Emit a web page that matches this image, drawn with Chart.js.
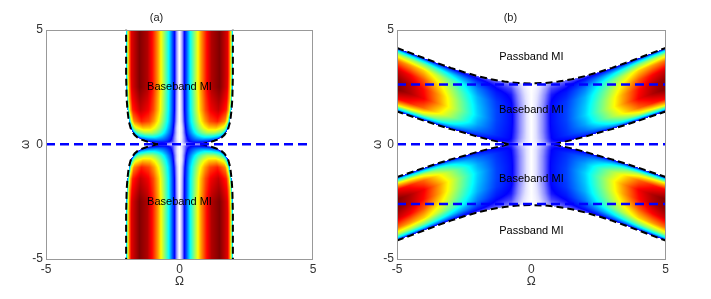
<!DOCTYPE html>
<html>
<head>
<meta charset="utf-8">
<script src="https://cdn.jsdelivr.net/npm/chart.js@4.4.1/dist/chart.umd.min.js"></script>
<style>
  body { margin: 0; background: #fff; }
  #wrap { position: relative; width: 711px; height: 299px; }
  canvas { position: absolute; top: 0; }
</style>
</head>
<body>
<div id="wrap">
  <canvas id="panelA" width="355" height="299" style="left:0"></canvas>
  <canvas id="panelB" width="356" height="299" style="left:355px"></canvas>
</div>
<script>
// axis ticks (both axes, both panels)
var tickValues = [-5, 0, 5];

// ---- panel (a) ----
// edge of the MI region: small omega -> |Omega|
var aEdgeW = [0, 0.02, 0.05, 0.1, 0.15, 0.2, 0.3, 0.4, 0.55, 0.7, 1.0, 1.5, 2, 3, 5];
var aEdgeO = [0.78, 0.9, 1.02, 1.17, 1.3, 1.42, 1.58, 1.68, 1.77, 1.83, 1.9, 1.95, 1.98, 2.0, 2.0];
// gain: rows = |omega|, cols = |Omega| / edge
var aGainW = [0, 0.1, 0.3, 0.5, 0.7, 1.0, 1.5, 2.5, 5];
var aGainT = [0, 0.05, 0.125, 0.2, 0.3, 0.4, 0.5, 0.6, 0.75, 0.9, 0.95, 1];
var aGain = [
    [0, 0.01, 0.02, 0.03, 0.03, 0.04, 0.05, 0.06, 0.07, 0.08, 0.08, 0.06],
    [0, 0.02, 0.06, 0.10, 0.13, 0.15, 0.16, 0.16, 0.15, 0.13, 0.11, 0.08],
    [0, 0.02, 0.09, 0.16, 0.23, 0.29, 0.33, 0.36, 0.35, 0.30, 0.24, 0.10],
    [0, 0.03, 0.12, 0.22, 0.33, 0.43, 0.50, 0.55, 0.55, 0.47, 0.37, 0.12],
    [0, 0.03, 0.14, 0.27, 0.40, 0.52, 0.61, 0.67, 0.68, 0.60, 0.48, 0.15],
    [0, 0.05, 0.17, 0.32, 0.47, 0.61, 0.72, 0.80, 0.84, 0.74, 0.58, 0.20],
    [0, 0.06, 0.19, 0.35, 0.52, 0.68, 0.80, 0.88, 0.93, 0.84, 0.68, 0.25],
    [0, 0.07, 0.20, 0.37, 0.55, 0.72, 0.85, 0.95, 1.00, 0.90, 0.72, 0.30],
    [0, 0.07, 0.20, 0.37, 0.55, 0.72, 0.85, 0.95, 1.00, 0.90, 0.72, 0.30]
];
var aBlue = [0];

// ---- panel (b) ----
// upper edge of the band: |Omega| -> omega
var bUpO = [0, 0.5, 1, 1.5, 2, 2.5, 3, 3.5, 4, 4.5, 5];
var bUpW = [2.65, 2.67, 2.73, 2.83, 2.97, 3.14, 3.33, 3.54, 3.76, 3.98, 4.2];
// lower edge of the band
var bLowO = [0.85, 1, 1.5, 2, 2.5, 3, 3.5, 4, 4.5, 5];
var bLowW = [0, 0.05, 0.18, 0.33, 0.5, 0.66, 0.84, 1.03, 1.23, 1.43];
// gain: rows = position across the band (0 lower edge, 1 upper edge), cols = |Omega|
var bGainS = [0, 0.04, 0.1, 0.2, 0.35, 0.5, 0.65, 0.8, 0.9, 0.96, 1];
var bGainO = [0, 0.15, 0.35, 0.55, 0.75, 1.3, 2.0, 2.7, 3.4, 4.0, 4.5, 5.0];
var bGain = [
    [0, 0.01, 0.03, 0.06, 0.10, 0.12, 0.12, 0.12, 0.12, 0.12, 0.12, 0.12],
    [0, 0.02, 0.05, 0.09, 0.13, 0.15, 0.19, 0.24, 0.30, 0.33, 0.35, 0.36],
    [0, 0.025, 0.06, 0.10, 0.14, 0.18, 0.24, 0.34, 0.47, 0.57, 0.61, 0.64],
    [0, 0.025, 0.065, 0.105, 0.145, 0.19, 0.29, 0.46, 0.63, 0.77, 0.84, 0.88],
    [0, 0.025, 0.065, 0.105, 0.15, 0.20, 0.33, 0.52, 0.72, 0.88, 0.95, 1.00],
    [0, 0.025, 0.065, 0.105, 0.15, 0.20, 0.32, 0.51, 0.71, 0.86, 0.94, 0.99],
    [0, 0.022, 0.06, 0.10, 0.145, 0.19, 0.30, 0.47, 0.65, 0.79, 0.87, 0.92],
    [0, 0.018, 0.05, 0.09, 0.13, 0.16, 0.25, 0.40, 0.55, 0.67, 0.72, 0.76],
    [0, 0.012, 0.04, 0.075, 0.11, 0.13, 0.19, 0.29, 0.40, 0.49, 0.53, 0.56],
    [0, 0.008, 0.03, 0.06, 0.09, 0.11, 0.14, 0.19, 0.25, 0.30, 0.32, 0.34],
    [0, 0.005, 0.02, 0.04, 0.07, 0.09, 0.10, 0.10, 0.10, 0.10, 0.10, 0.10]
];
var bBlue = [2.6, 0, -2.6];

var aLabels = [
    { text: 'Baseband MI', x: 0, y: 2.5 },
    { text: 'Baseband MI', x: 0, y: -2.5 }
];
var bLabels = [
    { text: 'Passband MI', x: 0, y: 3.8 },
    { text: 'Baseband MI', x: 0, y: 1.5 },
    { text: 'Baseband MI', x: 0, y: -1.5 },
    { text: 'Passband MI', x: 0, y: -3.8 }
];

// ---------- helpers ----------
function findIdx(arr, v) {
    if (v <= arr[0]) return [0, 0];
    for (var i = 1; i < arr.length; i++) {
        if (v <= arr[i]) return [i - 1, (v - arr[i - 1]) / (arr[i] - arr[i - 1])];
    }
    return [arr.length - 2, 1];
}
function interp1(xs, ys, v) {
    var f = findIdx(xs, v);
    return ys[f[0]] + (ys[f[0] + 1] - ys[f[0]]) * f[1];
}
function lookup(grid, rows, cols, r, c) {
    var fr = findIdx(rows, r), fc = findIdx(cols, c);
    var i = fr[0], j = fc[0], u = fr[1], v = fc[1];
    var top = grid[i][j] * (1 - v) + grid[i][j + 1] * v;
    var bot = grid[i + 1][j] * (1 - v) + grid[i + 1][j + 1] * v;
    return top * (1 - u) + bot * u;
}

// jet-like map with a white bottom end
var cmap = [
    [0, 255, 255, 255], [0.03, 225, 225, 255], [0.08, 140, 140, 255],
    [0.14, 0, 0, 255], [0.37, 0, 255, 255], [0.5, 128, 255, 128],
    [0.63, 255, 255, 0], [0.87, 255, 0, 0], [1, 128, 0, 0]
];
function colour(g) {
    g = Math.max(0, Math.min(1, g));
    for (var i = 1; i < cmap.length; i++) {
        if (g <= cmap[i][0]) {
            var a = cmap[i - 1], b = cmap[i], f = (g - a[0]) / (b[0] - a[0]);
            return [a[1] + (b[1] - a[1]) * f, a[2] + (b[2] - a[2]) * f, a[3] + (b[3] - a[3]) * f];
        }
    }
    return [128, 0, 0];
}

function gainA(O, W) {
    var edge = interp1(aEdgeW, aEdgeO, W);
    if (O > edge) return null;
    return lookup(aGain, aGainW, aGainT, W, O / edge);
}
function gainB(O, W) {
    var up = interp1(bUpO, bUpW, O);
    var lo = O <= bLowO[0] ? 0 : interp1(bLowO, bLowW, O);
    if (W > up || W < lo) return null;
    return lookup(bGain, bGainS, bGainO, (W - lo) / (up - lo), O);
}

function makeHeat(gainFn) {
    return {
        id: 'heat',
        beforeDatasetsDraw: function (chart) {
            var ctx = chart.ctx, a = chart.chartArea, sx = chart.scales.x, sy = chart.scales.y;
            var x0 = Math.round(a.left), y0 = Math.round(a.top);
            var w = Math.round(a.right) - x0, h = Math.round(a.bottom) - y0;
            var off = document.createElement('canvas');
            off.width = w; off.height = h;
            var octx = off.getContext('2d');
            var img = octx.createImageData(w, h);
            for (var j = 0; j < h; j++) {
                var wv = Math.abs(sy.getValueForPixel(y0 + j + 0.5));
                for (var i = 0; i < w; i++) {
                    var ov = Math.abs(sx.getValueForPixel(x0 + i + 0.5));
                    var g = gainFn(ov, wv);
                    if (g === null) continue;
                    var c = colour(g), k = (j * w + i) * 4;
                    img.data[k] = c[0]; img.data[k + 1] = c[1]; img.data[k + 2] = c[2]; img.data[k + 3] = 255;
                }
            }
            octx.putImageData(img, 0, 0);
            ctx.drawImage(off, x0, y0);
        }
    };
}

function makeLabels(list) {
    return {
        id: 'mi-labels',
        afterDatasetsDraw: function (chart) {
            var ctx = chart.ctx, sx = chart.scales.x, sy = chart.scales.y;
            ctx.save();
            ctx.font = '11px "Liberation Sans", Arial, sans-serif';
            ctx.fillStyle = '#000';
            ctx.textAlign = 'center';
            ctx.textBaseline = 'middle';
            list.forEach(function (t) {
                ctx.fillText(t.text, sx.getPixelForValue(t.x), sy.getPixelForValue(t.y));
            });
            ctx.restore();
        }
    };
}

var frame = {
    id: 'frame',
    afterDatasetsDraw: function (chart) {
        var a = chart.chartArea, ctx = chart.ctx;
        ctx.save();
        ctx.strokeStyle = '#999';
        ctx.lineWidth = 1;
        ctx.strokeRect(Math.round(a.left) + 0.5, Math.round(a.top) + 0.5,
            Math.round(a.right - a.left) - 1, Math.round(a.bottom - a.top) - 1);
        ctx.restore();
    }
};

function curve(xs, ys, sx, sy) {
    return xs.map(function (x, i) { return { x: sx * x, y: sy * ys[i] }; });
}
function blackLine(points) {
    return { data: points, borderColor: '#000', borderWidth: 2, borderDash: [7, 4], pointRadius: 0, tension: 0, fill: false };
}
function blueLine(w) {
    return { data: [{ x: -5, y: w }, { x: 5, y: w }], borderColor: '#0000ff', borderWidth: 2.5, borderDash: [9, 5], pointRadius: 0, fill: false };
}

Chart.defaults.font.family = '"Liberation Sans", Arial, sans-serif';
Chart.defaults.color = '#333';

function options(title, yWidth, padRight, yTitlePad) {
    return {
        responsive: false,
        animation: false,
        devicePixelRatio: 1,
        layout: { padding: { left: 0, right: padRight, top: 0, bottom: 0 } },
        plugins: {
            legend: { display: false },
            tooltip: { enabled: false },
            title: { display: true, text: title, color: '#222', font: { size: 11, weight: 'normal' }, padding: { top: 11.4, bottom: 4.9 } }
        },
        scales: {
            x: {
                type: 'linear', min: -5, max: 5,
                afterBuildTicks: function (s) { s.ticks = tickValues.map(function (v) { return { value: v }; }); },
                afterFit: function (s) { s.height = 40; },
                ticks: { padding: 3, maxRotation: 0, font: { size: 12 } },
                grid: { display: false, drawTicks: false },
                border: { display: false },
                title: { display: true, text: 'Ω', font: { size: 12 }, padding: { top: 0, bottom: 9.8 } }
            },
            y: {
                type: 'linear', min: -5, max: 5,
                afterBuildTicks: function (s) { s.ticks = tickValues.map(function (v) { return { value: v }; }); },
                afterFit: function (s) { s.width = yWidth; },
                ticks: { padding: 3, font: { size: 12 } },
                grid: { display: false, drawTicks: false },
                border: { display: false },
                title: { display: true, text: 'ω', font: { size: 12 }, padding: { top: yTitlePad, bottom: 0 } }
            }
        }
    };
}

// panel (a)
var aSets = aBlue.map(blueLine).concat([
    blackLine(curve(aEdgeO, aEdgeW, 1, 1)),
    blackLine(curve(aEdgeO, aEdgeW, 1, -1)),
    blackLine(curve(aEdgeO, aEdgeW, -1, 1)),
    blackLine(curve(aEdgeO, aEdgeW, -1, -1))
]);
new Chart(document.getElementById('panelA'), {
    type: 'line',
    data: { datasets: aSets },
    options: options('(a)', 46, 42, 18.8),
    plugins: [makeHeat(gainA), frame, makeLabels(aLabels)]
});

// panel (b)
function fullUpper(sy) {
    var left = curve(bUpO, bUpW, -1, sy).slice(1).reverse();
    return left.concat(curve(bUpO, bUpW, 1, sy));
}
var bSets = bBlue.map(blueLine).concat([
    blackLine(fullUpper(1)),
    blackLine(fullUpper(-1)),
    blackLine(curve(bLowO, bLowW, 1, 1)),
    blackLine(curve(bLowO, bLowW, -1, 1)),
    blackLine(curve(bLowO, bLowW, 1, -1)),
    blackLine(curve(bLowO, bLowW, -1, -1))
]);
new Chart(document.getElementById('panelB'), {
    type: 'line',
    data: { datasets: bSets },
    options: options('(b)', 42, 45.3, 15.1),
    plugins: [makeHeat(gainB), frame, makeLabels(bLabels)]
});
</script>
</body>
</html>
